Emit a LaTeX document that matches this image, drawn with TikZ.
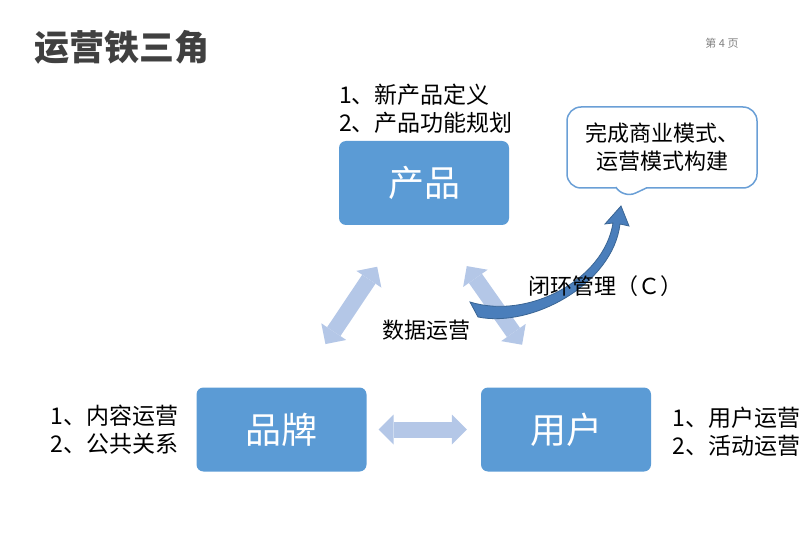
\documentclass[tikz,border=0pt]{standalone}
\usepackage{fontspec}
\setmainfont{Noto Sans CJK SC}
\usetikzlibrary{positioning,arrows.meta,shapes.callouts}
\definecolor{boxblue}{HTML}{5B9BD5}
\definecolor{arrowblue}{HTML}{B4C7E7}
\definecolor{loopblue}{HTML}{4A7EBB}
\definecolor{loopedge}{HTML}{3A6594}
\definecolor{sayblue}{HTML}{6A9FD6}
\definecolor{titlegray}{HTML}{404040}

\begin{document}
\begin{tikzpicture}[x=1pt,y=-1pt]
\tikzstyle{block}=[rectangle, rounded corners=7pt, fill=boxblue, text=white, minimum width=170pt, minimum height=84pt, font=\fontsize{36}{36}\selectfont]
\tikzstyle{listtxt}=[align=left, inner sep=0pt, font=\fontsize{23}{28}\selectfont]
\tikzstyle{bigarrow}=[line width=16pt, draw=arrowblue, {Triangle[length=15pt,width=30pt,line width=0pt]}-{Triangle[length=15pt,width=30pt,line width=0pt]}]
\tikzstyle{say}=[rectangle callout, draw=sayblue, line width=1.5pt, fill=white, rounded corners=14pt, minimum width=190pt, minimum height=81pt, callout pointer width=30pt, align=center, font=\fontsize{22}{28}\selectfont]
\useasboundingbox (0,0) rectangle (803,553);
  \node[anchor=west, text=titlegray, font=\fontsize{35}{35}\selectfont\bfseries] (title) at (31,47) {运营铁三角};
  \node[text=gray, font=\fontsize{11}{11}\selectfont] (page) at (722,43) {第 4 页};
  % three corners
  \node[block] (product) at (424,183) {产品};
  \node[block] (brand) at (281.5,429.5) {品牌};
  \node[block] (user) at (566,429.5) {用户};
  \node[listtxt, anchor=south west] (prodlist) at ([yshift=7pt]product.north west) {1、新产品定义\\2、产品功能规划};
  \node[listtxt, left=18pt of brand] (brandlist) {1、内容运营\\2、公共关系};
  \node[listtxt, right=21pt of user, yshift=-2.5pt] (userlist) {1、用户运营\\2、活动运营};
  % data arrows
  \draw[bigarrow, shorten <=12pt, shorten >=14pt] (brand) -- (user);
  \draw[bigarrow, shorten <=50pt, shorten >=52pt] ([xshift=-19pt]product.south) -- ([xshift=15pt]brand.north);
  \draw[bigarrow, shorten <=50pt, shorten >=52pt] ([xshift=14pt]product.south) -- ([xshift=-14pt]user.north);
  \node[font=\fontsize{22}{22}\selectfont] (data) at (426,330) {数据运营};
  % closed loop
  \node[say, callout absolute pointer={(623,199)}] (callout) at (662,147.5) {完成商业模式、\\运营模式构建};
  \coordinate (loopstart) at (474,309);
  \coordinate (looptip) at (621,206);
  \fill[loopblue, draw=loopedge, line width=0.8pt] (470,302) .. controls (528,320) and (604,280) .. (613,223) -- (605,224) -- (looptip) -- (629,226) -- (620,224) .. controls (613,284) and (532,328) .. (478,317) -- cycle;
  \node[anchor=west, font=\fontsize{22}{22}\selectfont] (loop) at (525,286) {闭环管理（Ｃ）};
\end{tikzpicture}
\end{document}
